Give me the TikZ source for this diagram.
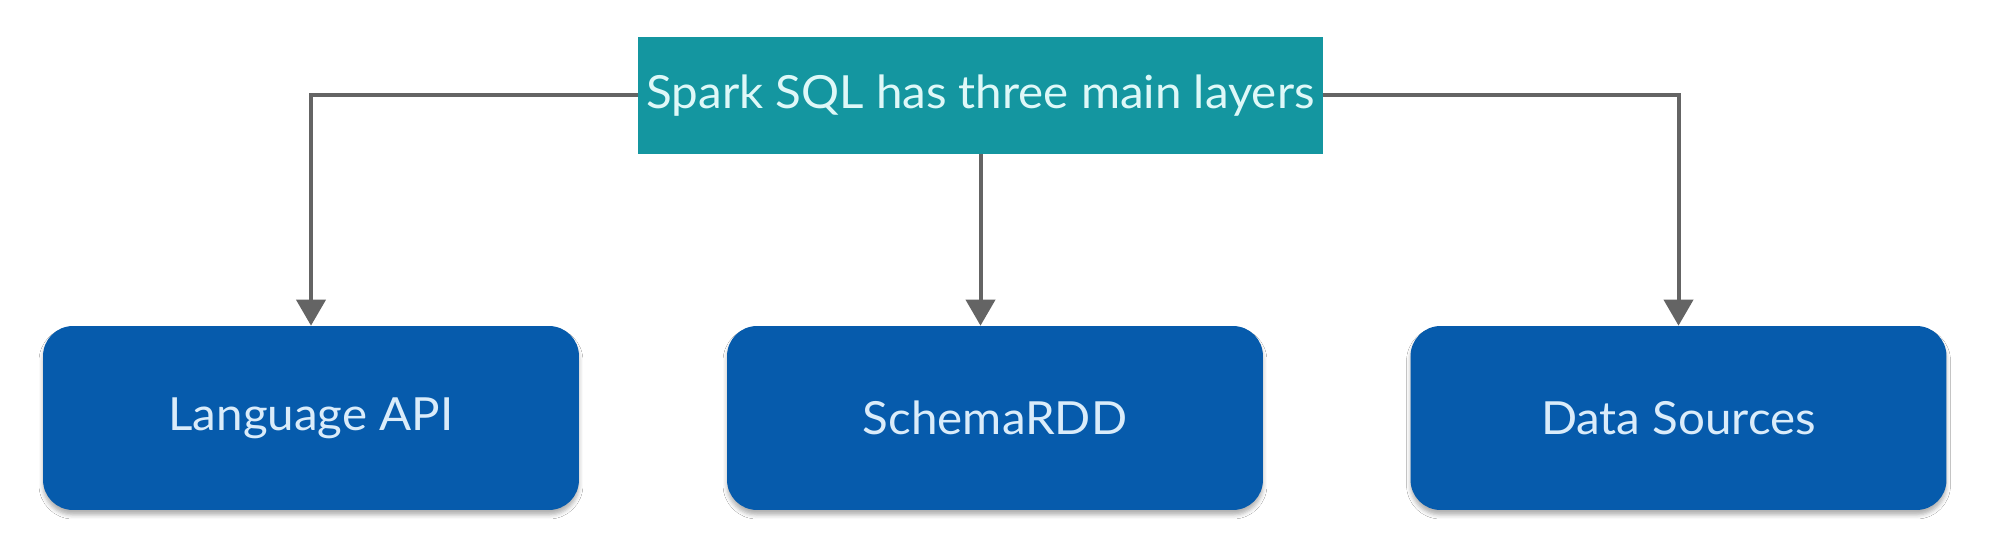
\documentclass[tikz,border=0pt]{standalone}
\usepackage{fontspec}
\setmainfont{Lato}[FakeStretch=1.04]
\usetikzlibrary{arrows.meta,shadows.blur}
\definecolor{tealbox}{RGB}{20,150,160}
\definecolor{bluebox}{RGB}{6,91,172}
\definecolor{arrowgray}{RGB}{100,100,100}
\definecolor{tealtext}{RGB}{222,248,248}
\definecolor{bluetext}{RGB}{218,236,250}
\tikzset{
  px/.style={x=0.02cm,y=-0.02cm},
  headbox/.style={fill=tealbox, text=tealtext, minimum width=13.7cm, minimum height=2.34cm,
    inner sep=0pt, font=\fontsize{26}{31}\selectfont},
  layerbox/.style={fill=bluebox, text=bluetext, rounded corners=0.6cm,
    minimum width=10.72cm, minimum height=3.68cm, inner sep=0pt,
    font=\fontsize{26}{31}\selectfont,
    blur shadow={shadow xshift=0cm, shadow yshift=-0.1cm, shadow blur radius=0.08cm, shadow opacity=30}},
  conn/.style={draw=arrowgray, line width=0.08cm,
    -{Triangle[width=0.58cm,length=0.52cm]}}
}
\begin{document}
\begin{tikzpicture}[px]
\useasboundingbox[fill=white] (0,0) rectangle (2000,543);
\node[headbox] (top) at (980.5,95.5) {Spark SQL has three main layers};
\node[layerbox] (lang) at (311,418) {Language API};
\node[layerbox] (schema) at (995,418) {SchemaRDD};
\node[layerbox] (data) at (1678.5,418) {Data Sources};
\draw[conn] (top.west) -| (lang.north);
\draw[conn] (top.south) -- (top.south |- schema.north);
\draw[conn] (top.east) -| (data.north);
\end{tikzpicture}
\end{document}
